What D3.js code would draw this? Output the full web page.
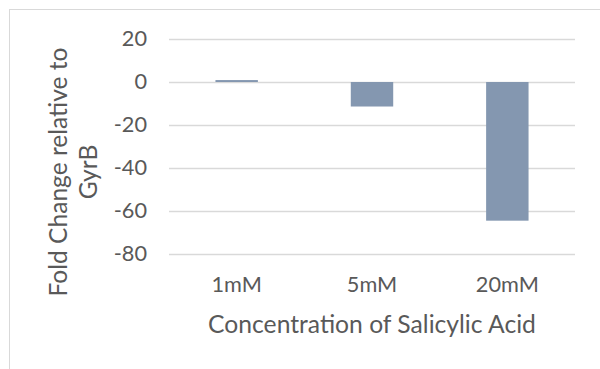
<!DOCTYPE html>
<html>
<head>
<meta charset="utf-8">
<script src="https://cdn.jsdelivr.net/npm/d3@7"></script>
<style>
  html, body { margin: 0; padding: 0; background: #ffffff; }
  svg { display: block; }
  text { font-family: Lato, "Open Sans", sans-serif; fill: #595959; }
</style>
</head>
<body>
<svg id="chart" width="600" height="369"></svg>
<script>
const categories = ["1mM", "5mM", "20mM"];
const values = [0.9, -11.4, -64.5];
const yTicks = [20, 0, -20, -40, -60, -80];
const xTitle = "Concentration of Salicylic Acid";
const yTitleLines = ["Fold Change relative to", "GyrB"];

const W = 600, H = 369;
const svg = d3.select("#chart");

// chart frame
svg.append("rect")
  .attr("x", 9.5).attr("y", 9.5)
  .attr("width", 700).attr("height", 500)
  .attr("fill", "#ffffff")
  .attr("stroke", "#d9d9d9").attr("stroke-width", 1);

const plot = { left: 169, right: 575, top: 39, bottom: 254 };

const x = d3.scaleBand()
  .domain(categories)
  .range([plot.left, plot.right])
  .paddingInner(0).paddingOuter(0);

const y = d3.scaleLinear()
  .domain([-80, 20])
  .range([plot.bottom, plot.top]);

// measure a tick font size so "20mM" is ~63px wide
const probe = svg.append("text").attr("font-size", 20).text(categories[2]);
const tickFont = (20 * 63 / probe.node().getComputedTextLength()).toFixed(2);
probe.remove();

// gridlines via axis
const gAxisY = svg.append("g")
  .attr("transform", `translate(${plot.left},0)`)
  .call(d3.axisLeft(y).tickValues(yTicks).tickSize(-(plot.right - plot.left)).tickPadding(22).tickFormat(d => String(d)));
gAxisY.select(".domain").remove();
gAxisY.selectAll(".tick line").attr("stroke", "#d9d9d9").attr("stroke-width", 1.3);
gAxisY.selectAll(".tick text")
  .attr("font-size", tickFont)
  .attr("fill", "#595959")
  .style("font-family", "Lato, 'Open Sans', sans-serif");

// bars
const bw = x.bandwidth() / 3.19;
svg.append("g").selectAll("rect")
  .data(values)
  .join("rect")
  .attr("x", (d, i) => x(categories[i]) + x.bandwidth() / 2 - bw / 2)
  .attr("y", d => y(Math.max(0, d)))
  .attr("width", bw)
  .attr("height", d => Math.abs(y(d) - y(0)))
  .attr("fill", "#8497b0");

// x tick labels
const gAxisX = svg.append("g")
  .attr("transform", `translate(0,${plot.bottom})`)
  .call(d3.axisBottom(x).tickSize(0).tickPadding(23));
gAxisX.select(".domain").remove();
gAxisX.selectAll(".tick text")
  .attr("font-size", tickFont)
  .attr("fill", "#595959")
  .style("font-family", "Lato, 'Open Sans', sans-serif");

// x title
const xt = svg.append("text")
  .attr("x", (plot.left + plot.right) / 2)
  .attr("y", 333)
  .attr("text-anchor", "middle")
  .attr("font-size", 24)
  .text(xTitle);
{
  const len = xt.node().getComputedTextLength();
  xt.attr("font-size", (24 * 328 / len).toFixed(2));
}

// y title
const yt = svg.append("text")
  .attr("transform", "rotate(-90)")
  .attr("text-anchor", "middle")
  .attr("font-size", 24);
yt.selectAll("tspan")
  .data(yTitleLines)
  .join("tspan")
  .attr("x", -172)
  .attr("y", (d, i) => 67 + i * 30)
  .text(d => d);
{
  const len = yt.select("tspan").node().getComputedTextLength();
  yt.attr("font-size", (24 * 249 / len).toFixed(2));
}
</script>
</body>
</html>
